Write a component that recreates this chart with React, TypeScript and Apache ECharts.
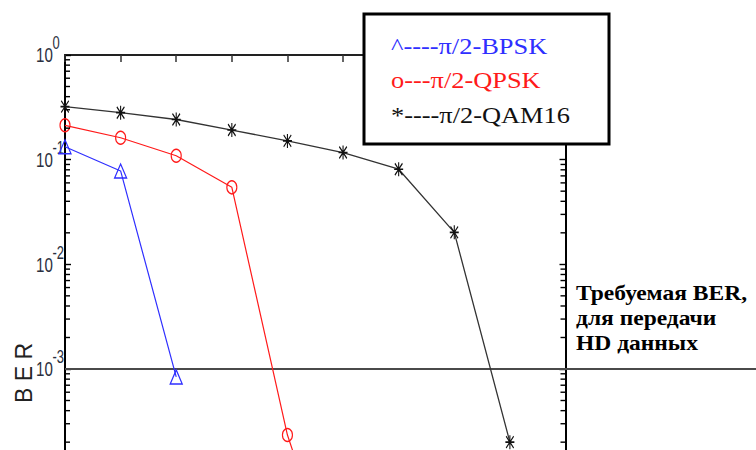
import React, { useEffect, useRef } from "react";
import * as echarts from "echarts";

// Eb/N0 steps along the horizontal axis (one step per marker)
const snrSteps = [0, 1, 2, 3, 4, 5, 6, 7, 8];
const snrMin = 0;
const snrMax = 9;

// Bit error rate per modulation
const berBpsk = [0.133, 0.078, 8.4e-4];
const berQpsk = [0.213, 0.162, 0.109, 0.0544, 2.34e-4, 6e-6];
const berQam16 = [0.321, 0.281, 0.242, 0.192, 0.151, 0.117, 0.081, 0.0202, 2.0e-4];

const berMin = 1e-6;
const berMax = 1;
const targetBer = 1e-3;

// decade labels shown on the BER axis (10^e)
const labelExponents = [0, -1, -2, -3];

// log-axis minor ticks: mantissa x 10^decade
const tickDecades = [-6, -5, -4, -3, -2, -1];
const tickMantissas = [2, 3, 4, 5, 6, 7, 8, 9];

const legendLines = ["^----π/2-BPSK", "o---π/2-QPSK", "*----π/2-QAM16"];
const noteLines = ["Требуемая BER,", "для передачи", "HD данных"];
const axisTitle = "B E R";

const BLUE = "#2f2fff";
const RED = "#ff1a1a";
const BLACK = "#111";
const LABEL = "#2b3040";
const SANS = "'Liberation Sans', Arial, sans-serif";
const SERIF = "'Liberation Serif', 'Times New Roman', serif";

const ASTERISK =
  "path://M44 0H56V100H44ZM0 44H100V56H0ZM4 12L12 4L96 88L88 96ZM88 4L96 12L12 96L4 88Z";

const pairs = (ys: number[]) => ys.map((y, i) => [snrSteps[i], y]);

export default function App() {
  const ref = useRef<HTMLDivElement>(null);

  useEffect(() => {
    if (!ref.current) return;
    const chart = echarts.init(ref.current, undefined, { renderer: "svg" });

    const minorTicks: number[] = [];
    tickDecades.forEach((d) => tickMantissas.forEach((m) => minorTicks.push(m * Math.pow(10, d))));

    const yAxisBase = {
      type: "log" as const,
      logBase: 10,
      min: berMin,
      max: berMax,
      splitLine: { show: false },
      minorTick: { show: false },
      axisLabel: { show: false },
      axisLine: { show: true, lineStyle: { color: "#000", width: 2 } },
      axisTick: { show: true, inside: true, length: 6, lineStyle: { color: "#000", width: 1.4 } },
    };

    chart.setOption({
      animation: false,
      backgroundColor: "#fff",
      grid: { left: 65, right: 190.5, top: 55, bottom: -233, containLabel: false, outerBoundsMode: "none" },
      xAxis: {
        type: "value",
        position: "top",
        min: snrMin,
        max: snrMax,
        interval: 1,
        splitLine: { show: false },
        axisLabel: { show: false },
        axisLine: { show: true, lineStyle: { color: "#222", width: 2 } },
        axisTick: { show: true, inside: true, length: 7, lineStyle: { color: "#333", width: 1.5 } },
      },
      yAxis: [
        { ...yAxisBase, position: "left" },
        { ...yAxisBase, position: "right" },
      ],
      series: [
        {
          name: "π/2-QAM16",
          type: "line",
          data: pairs(berQam16),
          symbol: ASTERISK,
          symbolSize: [9, 14],
          lineStyle: { color: "#333", width: 1.3 },
          itemStyle: { color: BLACK },
          z: 4,
        },
        {
          name: "π/2-QPSK",
          type: "line",
          data: pairs(berQpsk),
          symbol: "circle",
          symbolSize: [10, 13],
          lineStyle: { color: RED, width: 1.2 },
          itemStyle: { color: "rgba(0,0,0,0)", borderColor: RED, borderWidth: 1.3 },
          z: 5,
        },
        {
          name: "π/2-BPSK",
          type: "line",
          data: pairs(berBpsk),
          symbol: "triangle",
          symbolSize: [12, 14],
          lineStyle: { color: BLUE, width: 1.2 },
          itemStyle: { color: "rgba(0,0,0,0)", borderColor: BLUE, borderWidth: 1.3 },
          z: 6,
        },
      ],
    });

    const toPx = (x: number, y: number) => chart.convertToPixel({ gridIndex: 0 }, [x, y]) as number[];
    const target = toPx(snrMin, targetBer);
    const legendColors = [BLUE, RED, BLACK];
    const legendY = [46, 80, 115];
    const noteY = [293, 318, 343];

    // minor ticks on both vertical axes, pointing inward
    const minorTickEls: any[] = [];
    minorTicks.forEach((v) => {
      const l = toPx(snrMin, v);
      const r = toPx(snrMax, v);
      minorTickEls.push({
        type: "rect",
        z: 50,
        shape: { x: l[0], y: l[1] - 0.7, width: 5, height: 1.4 },
        style: { fill: "#000" },
      });
      minorTickEls.push({
        type: "rect",
        z: 50,
        shape: { x: r[0] - 5, y: r[1] - 0.7, width: 5, height: 1.4 },
        style: { fill: "#000" },
      });
    });

    // decade labels 10^e, base and raised exponent
    const labelEls: any[] = [];
    labelExponents.forEach((e) => {
      const y = toPx(snrMin, Math.pow(10, e))[1];
      labelEls.push({
        type: "text",
        z: 3,
        x: 36,
        y: y,
        scaleX: 0.72,
        style: { text: "10", fill: LABEL, fontFamily: SANS, fontSize: 21, verticalAlign: "middle" },
      });
      labelEls.push({
        type: "text",
        z: 3,
        x: 52.5,
        y: y - 12,
        scaleX: 0.72,
        style: { text: String(e), fill: LABEL, fontFamily: SANS, fontSize: 18, verticalAlign: "middle" },
      });
    });

    chart.setOption({
      graphic: [
        ...minorTickEls,
        ...labelEls,
        {
          type: "line",
          z: 3,
          shape: { x1: target[0], y1: target[1], x2: 756, y2: target[1] },
          style: { stroke: "#4a4a4a", lineWidth: 2 },
        },
        {
          type: "text",
          z: 3,
          x: 24,
          y: 373,
          rotation: Math.PI / 2,
          style: { text: axisTitle, fill: "#222", fontFamily: SANS, fontSize: 23, align: "center", verticalAlign: "middle" },
        },
        {
          type: "rect",
          z: 100,
          shape: { x: 364, y: 14, width: 245, height: 130 },
          style: { fill: "#fff", stroke: "#000", lineWidth: 3 },
        },
        ...legendLines.map((t, i) => ({
          type: "text",
          z: 101,
          x: 391,
          y: legendY[i],
          scaleX: 1.1,
          style: { text: t, fill: legendColors[i], fontFamily: SERIF, fontSize: 24, verticalAlign: "middle" },
        })),
        ...noteLines.map((t, i) => ({
          type: "text",
          z: 101,
          x: 576,
          y: noteY[i],
          scaleX: 1.12,
          style: { text: t, fill: "#000", fontFamily: SERIF, fontWeight: "bold", fontSize: 21, verticalAlign: "middle" },
        })),
      ],
    });

    return () => chart.dispose();
  }, []);

  return <div ref={ref} style={{ width: 756, height: 450, position: "absolute", left: 0, top: 0 }} />;
}
